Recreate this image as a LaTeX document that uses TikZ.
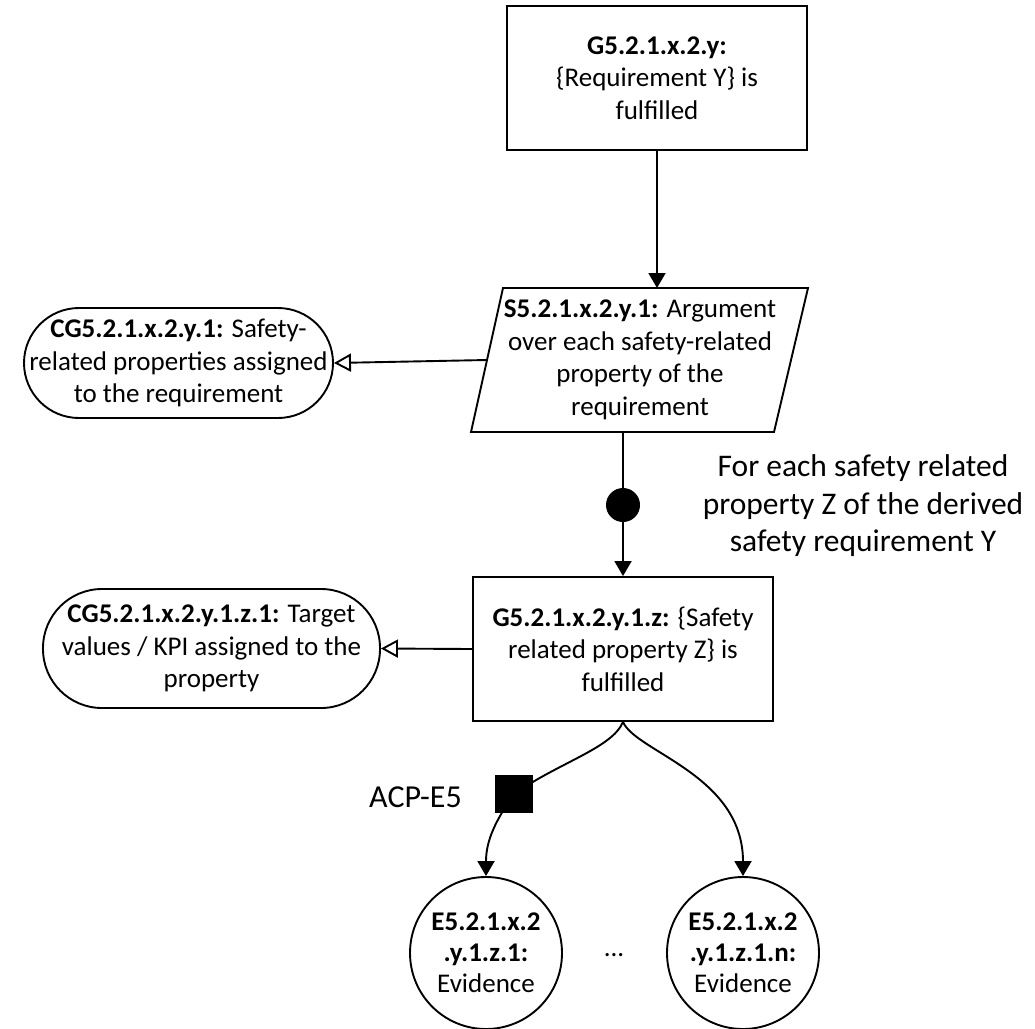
\documentclass[tikz,border=0pt]{standalone}
\usepackage{fontspec}
\setmainfont{Carlito}
\usetikzlibrary{arrows.meta,calc}
\begin{document}
\begin{tikzpicture}[x=1pt,y=-1pt,
  every node/.style={font=\fontsize{27}{32.5}\selectfont, align=center, inner sep=0pt},
  goalbox/.style={draw, line width=1.9pt, minimum width=300pt, minimum height=144pt},
  ctxbox/.style={draw, line width=1.9pt},
  evid/.style={draw, circle, line width=1.9pt, minimum size=152pt},
  link/.style={line width=1.9pt, -{Triangle[length=15pt,width=17pt]}},
  ctxlink/.style={line width=1.9pt, -{Triangle[open,length=17pt,width=18pt]}},
  plain/.style={line width=1.9pt},
]
\useasboundingbox (0,0) rectangle (1035,1028);

% top-level goal
\node[goalbox] (g1) at (657,78)
  {\textbf{G5.2.1.x.2.y:}\\\{Requirement Y\} is\\fulfilled};

% strategy (parallelogram)
\coordinate (sTL) at (503,288);
\coordinate (sTR) at (808,288);
\coordinate (sBR) at (774,432);
\coordinate (sBL) at (471,432);
\draw[plain] (sTL) -- (sTR) -- (sBR) -- (sBL) -- cycle;
\node (s) at (640,360)
  {\textbf{S5.2.1.x.2.y.1:} Argument\\over each safety-related\\property of the\\requirement};
\coordinate (sL) at ($(sTL)!0.5!(sBL)$);

% context of the strategy
\node[ctxbox, rounded corners=55pt, minimum width=309pt, minimum height=110pt] (cg1) at (178.5,363)
  {\textbf{CG5.2.1.x.2.y.1:} Safety-\\related properties assigned\\to the requirement};

% sub-goal
\node[goalbox] (g2) at (623,649)
  {\textbf{G5.2.1.x.2.y.1.z:} \{Safety\\related property Z\} is\\fulfilled};

% context of the sub-goal
\node[ctxbox, rounded corners=59pt, minimum width=337pt, minimum height=119pt] (cg2) at (211.5,648.5)
  {\textbf{CG5.2.1.x.2.y.1.z.1:} Target\\values / KPI assigned to the\\property};

% evidence
\node[evid, font=\fontsize{27}{31}\selectfont] (e1) at (486,953) {\textbf{E5.2.1.x.2}\\\textbf{.y.1.z.1:}\\Evidence};
\node[evid, font=\fontsize{27}{31}\selectfont] (e2) at (743,953) {\textbf{E5.2.1.x.2}\\\textbf{.y.1.z.1.n:}\\Evidence};
\node (dots) at (614,955) {...};

% multiplicity annotation
\node[font=\fontsize{31.5}{37.5}\selectfont] (forEach) at (863,506)
  {For each safety related\\property Z of the derived\\safety requirement Y};

% connectors
\draw[link] (g1.south) -- (g1.south |- sTL);
\coordinate (sOut) at (g2.north |- sBL);
\draw[link] (sOut) -- (g2.north);
\node[circle, fill=black, minimum size=34pt] (dot) at (623,505) {};
\draw[ctxlink] (sL) -- (cg1.east);
\draw[ctxlink] (g2.west) -- (cg2.east);

\coordinate (acp) at (514,794);
\draw[link] (g2.south) .. controls (612,748) and (560,762) .. (acp)
  .. controls (496,820) and (486,840) .. (e1.north);
\draw[link] (g2.south) .. controls (636,752) and (743,775) .. (e2.north);
\node[fill=black, minimum size=38pt] (sq) at (acp) {};
\node[font=\fontsize{32}{38}\selectfont, anchor=east] (acpLabel) at (462,797) {ACP-E5};

\end{tikzpicture}
\end{document}
